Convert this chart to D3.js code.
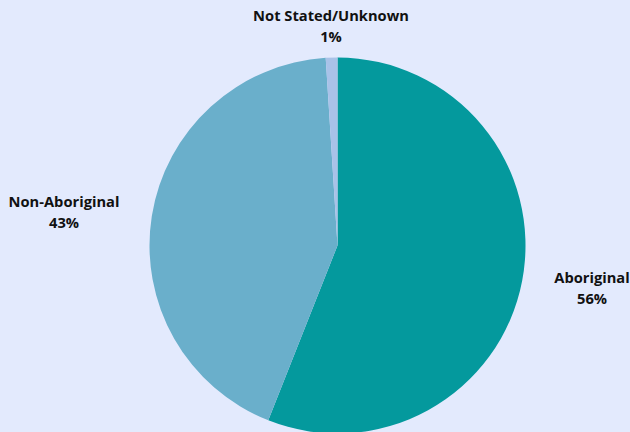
<!DOCTYPE html>
<html>
<head>
<meta charset="utf-8">
<script src="https://cdn.jsdelivr.net/npm/d3@7"></script>
<style>
  html, body { margin: 0; padding: 0; background: #e3eafd; }
  svg { display: block; }
  text { font-family: "Open Sans", sans-serif; font-weight: 700; font-size: 14.7px; fill: #111; }
</style>
</head>
<body>
<div id="chart"></div>
<script>
// data
const categories = ["Aboriginal", "Non-Aboriginal", "Not Stated/Unknown"];
const values = [56, 43, 1];
const colors = ["#04999d", "#6aafcb", "#a9c2e8"];

const width = 630;
const height = 432;
const cx = 337.5, cy = 245.5, radius = 188;

let svg = d3.select("#chart")
    .append("svg")
    .attr("width", width)
    .attr("height", height);

let data = categories.map((c, i) => ({ name: c, value: values[i] }));

let pie = d3.pie().sort(null).value(d => d.value);
let arc = d3.arc().innerRadius(0).outerRadius(radius);

let color = d3.scaleOrdinal().domain(categories).range(colors);

let g = svg.append("g").attr("transform", "translate(" + cx + "," + cy + ")");

g.selectAll("path")
    .data(pie(data))
    .enter()
    .append("path")
    .attr("d", arc)
    .attr("fill", d => color(d.data.name));

// label positions (outside the pie)
const labelPos = {
    "Aboriginal": [592, 283],
    "Non-Aboriginal": [64, 207],
    "Not Stated/Unknown": [331, 21]
};

let total = d3.sum(values);
let labels = svg.selectAll(".lbl")
    .data(data)
    .enter()
    .append("text")
    .attr("class", "lbl")
    .attr("text-anchor", "middle")
    .attr("x", d => labelPos[d.name][0])
    .attr("y", d => labelPos[d.name][1]);

labels.append("tspan").text(d => d.name);
labels.append("tspan")
    .attr("x", d => labelPos[d.name][0])
    .attr("dy", 21)
    .text(d => Math.round(d.value / total * 100) + "%");
</script>
</body>
</html>
